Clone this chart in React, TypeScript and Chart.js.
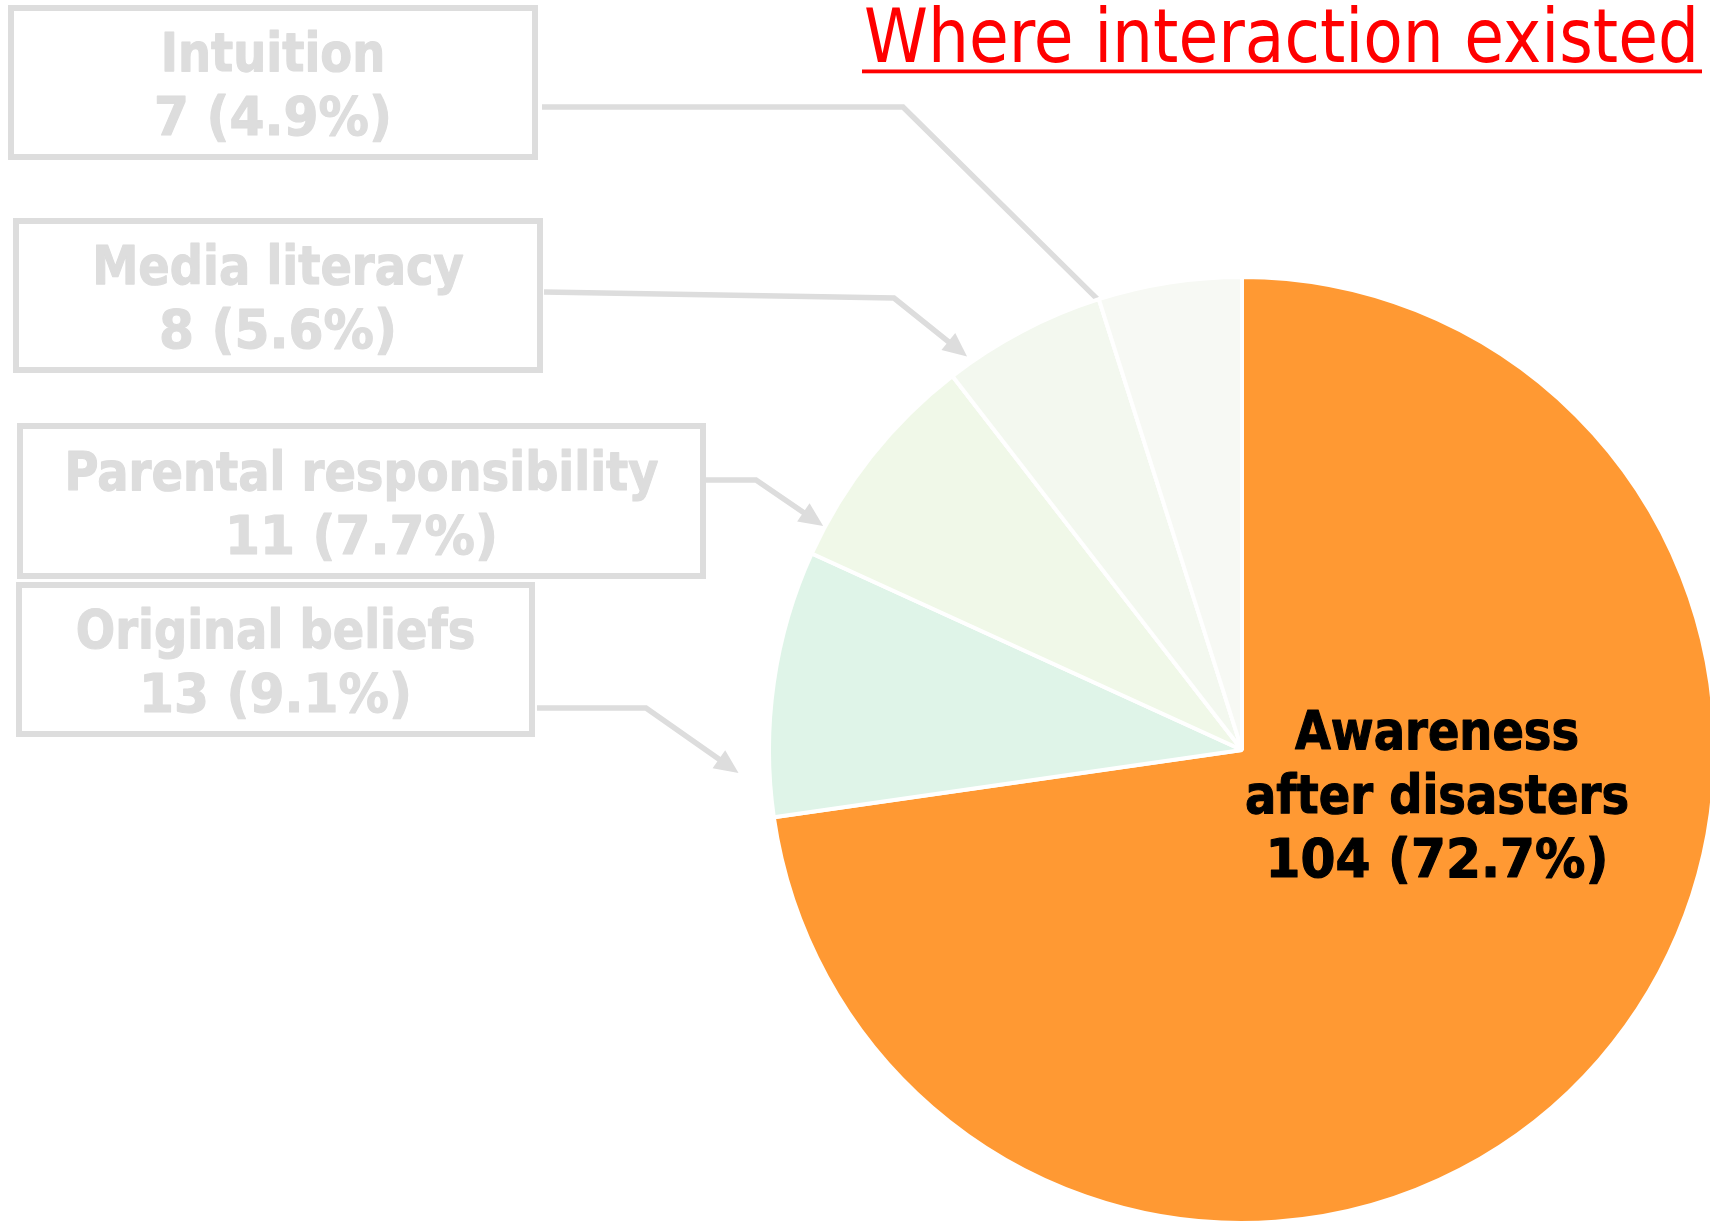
import React, { useEffect, useRef } from "react";
import { Chart, registerables } from "chart.js";

Chart.register(...registerables);

// ---------- data ----------
const categories = [
  "Awareness after disasters",
  "Original beliefs",
  "Parental responsibility",
  "Media literacy",
  "Intuition",
];
const counts = [104, 13, 11, 8, 7];
const sliceColors = ["#FF9933", "#DFF4E8", "#F0F8E8", "#F3F8EF", "#F7F9F4"];
const centerLabelLines = ["Awareness", "after disasters"];
const titleText = "Where interaction existed";

// ---------- layout (positions / styles only) ----------
const CANVAS_W = 1740;
const CANVAS_H = 1260;
const FONT = "'DejaVu Sans', Verdana, sans-serif";
const GRAY = "#DDDDDD";

type Callout = {
  index: number;
  box: [number, number, number, number];
  path: [number, number][];
  frac: number;
  dr: number;
  arrow: boolean;
};

const CALLOUTS: Callout[] = [
  { index: 4, box: [11, 8, 535, 157], path: [[542, 107], [903, 107]], frac: 0.0, dr: -2, arrow: false },
  { index: 3, box: [16, 221, 540, 370], path: [[544, 292], [894, 298]], frac: 0.14, dr: 7, arrow: true },
  { index: 2, box: [20, 426, 703, 576], path: [[706, 480], [756, 480]], frac: 0.13, dr: 2, arrow: true },
  { index: 1, box: [19, 585, 532, 734], path: [[537, 708], [646, 708]], frac: 0.17, dr: 31, arrow: true },
];

const total = counts.reduce((a, b) => a + b, 0);
const pctText = (v: number) => `${v} (${((v / total) * 100).toFixed(1)}%)`;

function drawScaled(
  ctx: CanvasRenderingContext2D,
  text: string,
  cx: number,
  baseline: number,
  k: number,
  thicken: number
) {
  ctx.save();
  ctx.translate(cx, baseline);
  ctx.scale(k, 1);
  ctx.textAlign = "center";
  ctx.textBaseline = "alphabetic";
  ctx.fillText(text, 0, 0);
  if (thicken > 0) {
    ctx.strokeStyle = ctx.fillStyle as string;
    ctx.lineWidth = thicken;
    ctx.lineJoin = "round";
    ctx.strokeText(text, 0, 0);
  }
  ctx.restore();
}

function scales(ctx: CanvasRenderingContext2D) {
  ctx.save();
  ctx.font = `bold 54px ${FONT}`;
  const w = ctx.measureText("after disasters").width;
  const wn = ctx.measureText("104 (72.7%)").width;
  ctx.restore();
  return { k: 384 / w, kn: 343 / wn };
}

const calloutPlugin = {
  id: "callouts",
  beforeDatasetsDraw(chart: any) {
    const ctx: CanvasRenderingContext2D = chart.ctx;
    const meta = chart.getDatasetMeta(0);
    ctx.save();
    ctx.strokeStyle = GRAY;
    ctx.fillStyle = GRAY;
    ctx.lineWidth = 5.5;
    ctx.lineJoin = "miter";
    for (const c of CALLOUTS) {
      const arc = meta.data[c.index];
      const a = arc.startAngle + c.frac * (arc.endAngle - arc.startAngle);
      const r = arc.outerRadius + c.dr;
      const tx = arc.x + r * Math.cos(a);
      const ty = arc.y + r * Math.sin(a);
      const [ex, ey] = c.path[c.path.length - 1];
      const ang = Math.atan2(ty - ey, tx - ex);
      const headLen = c.arrow ? 24 : 0;
      const headHalf = 11;
      const bx = tx - headLen * Math.cos(ang);
      const by = ty - headLen * Math.sin(ang);
      ctx.beginPath();
      ctx.moveTo(c.path[0][0], c.path[0][1]);
      for (let i = 1; i < c.path.length; i++) ctx.lineTo(c.path[i][0], c.path[i][1]);
      ctx.lineTo(bx + (c.arrow ? 2 : 0) * Math.cos(ang), by + (c.arrow ? 2 : 0) * Math.sin(ang));
      ctx.stroke();
      if (c.arrow) {
        ctx.beginPath();
        ctx.moveTo(tx, ty);
        ctx.lineTo(bx + headHalf * Math.sin(ang), by - headHalf * Math.cos(ang));
        ctx.lineTo(bx - headHalf * Math.sin(ang), by + headHalf * Math.cos(ang));
        ctx.closePath();
        ctx.fill();
      }
    }
    ctx.restore();
  },
  afterDatasetsDraw(chart: any) {
    const ctx: CanvasRenderingContext2D = chart.ctx;
    const meta = chart.getDatasetMeta(0);
    const { k, kn } = scales(ctx);

    // callout boxes with labels
    ctx.save();
    ctx.strokeStyle = GRAY;
    ctx.lineWidth = 6;
    for (const c of CALLOUTS) {
      const [x0, y0, x1, y1] = c.box;
      ctx.strokeRect(x0, y0, x1 - x0, y1 - y0);
    }
    ctx.fillStyle = GRAY;
    ctx.font = `bold 54px ${FONT}`;
    for (const c of CALLOUTS) {
      const [x0, y0, x1, y1] = c.box;
      const cx = (x0 + x1) / 2;
      const cy = (y0 + y1) / 2;
      drawScaled(ctx, categories[c.index], cx, cy - 11.5, k, 1.2);
      drawScaled(ctx, pctText(counts[c.index]), cx, cy + 52.5, kn, 1.2);
    }
    ctx.restore();

    // label inside the big slice
    const big = meta.data[0];
    ctx.save();
    ctx.fillStyle = "#000000";
    ctx.font = `bold 54px ${FONT}`;
    const lx = big.x + 195;
    drawScaled(ctx, centerLabelLines[0], lx, big.y - 1.5, k, 1.2);
    drawScaled(ctx, centerLabelLines[1], lx, big.y - 1.5 + 64, k, 1.2);
    drawScaled(ctx, pctText(counts[0]), lx, big.y - 1.5 + 128, kn, 1.2);
    ctx.restore();

    // title, underlined
    ctx.save();
    ctx.fillStyle = "#FF0000";
    ctx.font = `75px ${FONT}`;
    const tw = ctx.measureText(titleText).width;
    const left = 864;
    const right = 1699;
    const tk = (right - left) / tw;
    ctx.translate(left, 62);
    ctx.scale(tk, 1);
    ctx.textAlign = "left";
    ctx.textBaseline = "alphabetic";
    ctx.fillText(titleText, 0, 0);
    ctx.restore();
    ctx.save();
    ctx.fillStyle = "#FF0000";
    ctx.fillRect(862, 69.5, 840, 3.8);
    ctx.restore();
  },
};

export default function App() {
  const canvasRef = useRef<HTMLCanvasElement | null>(null);

  useEffect(() => {
    const canvas = canvasRef.current;
    if (!canvas) return;
    const chart = new Chart(canvas, {
      type: "pie",
      data: {
        labels: categories,
        datasets: [
          {
            data: counts,
            backgroundColor: sliceColors,
            borderColor: "#FFFFFF",
            borderWidth: 4,
          },
        ],
      },
      options: {
        animation: false,
        responsive: false,
        maintainAspectRatio: false,
        devicePixelRatio: 1,
        layout: { padding: { left: 767, top: 275, right: 23, bottom: 35 } },
        plugins: {
          legend: { display: false },
          tooltip: { enabled: false },
          title: { display: false },
        },
        events: [],
      },
      plugins: [calloutPlugin],
    });
    return () => chart.destroy();
  }, []);

  return (
    <div
      style={{
        position: "fixed",
        left: 0,
        top: 0,
        width: 1710,
        height: 1221,
        overflow: "hidden",
        background: "#FFFFFF",
      }}
    >
      <canvas
        ref={canvasRef}
        width={CANVAS_W}
        height={CANVAS_H}
        style={{ display: "block", width: CANVAS_W, height: CANVAS_H }}
      />
    </div>
  );
}
